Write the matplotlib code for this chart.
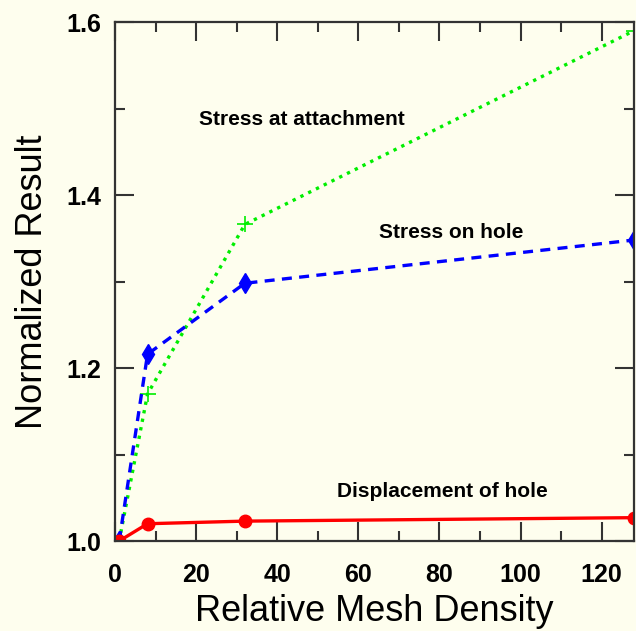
import matplotlib.pyplot as plt
from matplotlib.ticker import MultipleLocator

# mesh densities and normalized results
densidade = [1, 8, 32, 128]
tensao_fixacao = [1.0, 1.17, 1.366, 1.59]
tensao_furo = [1.0, 1.216, 1.298, 1.348]
desloc_furo = [1.0, 1.02, 1.023, 1.027]

fundo = '#fefeee'
plt.rcParams['font.family'] = ['Liberation Sans', 'DejaVu Sans']

fig = plt.figure(figsize=(6.36, 6.31), dpi=100, facecolor=fundo)
ax = fig.add_axes([0.181, 0.1426, 0.816, 0.8225], facecolor=fundo)

ax.plot(densidade, tensao_fixacao, linestyle=(0, (1, 1.6)), color='#00ee00',
        linewidth=2.4, marker='+', markersize=12, markeredgewidth=1.2)
ax.plot(densidade, tensao_furo, linestyle=(0, (3, 2.2)), color='#0000ff',
        linewidth=2.4, marker='d', markersize=10)
ax.plot(densidade, desloc_furo, linestyle='-', color='#ff0000',
        linewidth=2.4, marker='o', markersize=9)

ax.text(46, 1.487, 'Stress at attachment', fontsize=15, fontweight='bold',
        ha='center', va='center')
ax.text(83, 1.357, 'Stress on hole', fontsize=15, fontweight='bold',
        ha='center', va='center')
ax.text(80.6, 1.057, 'Displacement of hole', fontsize=15, fontweight='bold',
        ha='center', va='center')

ax.set_xlim(0, 128)
ax.set_ylim(1.0, 1.6)
ax.xaxis.set_major_locator(MultipleLocator(20))
ax.xaxis.set_minor_locator(MultipleLocator(10))
ax.yaxis.set_major_locator(MultipleLocator(0.2))
ax.yaxis.set_minor_locator(MultipleLocator(0.1))
ax.tick_params(which='both', direction='in', top=True, right=True,
               color='#333333', width=1.5, labelsize=18)
ax.tick_params(axis='x', pad=16)
ax.tick_params(axis='y', pad=10)
ax.tick_params(which='major', length=14)
ax.tick_params(which='minor', length=7)
for lbl in ax.get_xticklabels() + ax.get_yticklabels():
    lbl.set_fontweight('bold')
for lado in ax.spines.values():
    lado.set_linewidth(1.6)
    lado.set_color('#333333')

ax.set_xlabel('Relative Mesh Density', fontsize=26, labelpad=5)
ax.set_ylabel('Normalized Result', fontsize=26, labelpad=12)

fig.savefig('out.png', dpi=100, facecolor=fundo)
